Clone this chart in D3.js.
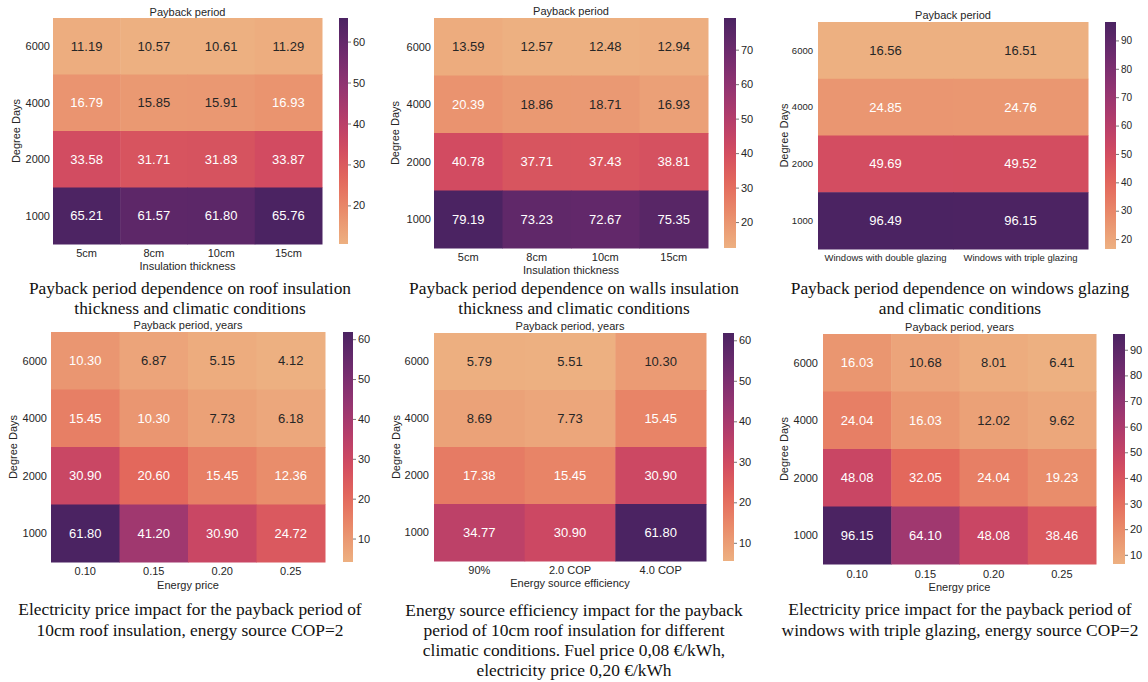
<!DOCTYPE html>
<html><head><meta charset="utf-8">
<script src="https://cdn.jsdelivr.net/npm/d3@7"></script>
<style>
body{margin:0;background:#fff;}
svg{display:block;}
</style></head>
<body>
<svg id="chart" width="1148" height="682"></svg>
<script>
// ---------- DATA ----------
const rowLabels = ["6000", "4000", "2000", "1000"];

const roofCols = ["5cm", "8cm", "10cm", "15cm"];
const roofValues = [
  [11.19, 10.57, 10.61, 11.29],
  [16.79, 15.85, 15.91, 16.93],
  [33.58, 31.71, 31.83, 33.87],
  [65.21, 61.57, 61.80, 65.76]
];
const roofTicks = [20, 30, 40, 50, 60];

const wallCols = ["5cm", "8cm", "10cm", "15cm"];
const wallValues = [
  [13.59, 12.57, 12.48, 12.94],
  [20.39, 18.86, 18.71, 16.93],
  [40.78, 37.71, 37.43, 38.81],
  [79.19, 73.23, 72.67, 75.35]
];
const wallTicks = [20, 30, 40, 50, 60, 70];

const windowCols = ["Windows with double glazing", "Windows with triple glazing"];
const windowValues = [
  [16.56, 16.51],
  [24.85, 24.76],
  [49.69, 49.52],
  [96.49, 96.15]
];
const windowTicks = [20, 30, 40, 50, 60, 70, 80, 90];

const priceCols = ["0.10", "0.15", "0.20", "0.25"];
const roofPriceValues = [
  [10.30, 6.87, 5.15, 4.12],
  [15.45, 10.30, 7.73, 6.18],
  [30.90, 20.60, 15.45, 12.36],
  [61.80, 41.20, 30.90, 24.72]
];
const roofPriceTicks = [10, 20, 30, 40, 50, 60];

const effCols = ["90%", "2.0 COP", "4.0 COP"];
const effValues = [
  [5.79, 5.51, 10.30],
  [8.69, 7.73, 15.45],
  [17.38, 15.45, 30.90],
  [34.77, 30.90, 61.80]
];
const effTicks = [10, 20, 30, 40, 50, 60];

const windowPriceValues = [
  [16.03, 10.68, 8.01, 6.41],
  [24.04, 16.03, 12.02, 9.62],
  [48.08, 32.05, 24.04, 19.23],
  [96.15, 64.10, 48.08, 38.46]
];
const windowPriceTicks = [10, 20, 30, 40, 50, 60, 70, 80, 90];

const titles = ["Payback period", "Payback period", "Payback period",
  "Payback period, years", "Payback period, years", "Payback period, years"];
const xTitles = ["Insulation thickness", "Insulation thickness", "",
  "Energy price", "Energy source efficiency", "Energy price"];
const yTitle = "Degree Days";
const captions = [
  ["Payback period dependence on roof insulation", "thickness and climatic conditions"],
  ["Payback period dependence on walls insulation", "thickness and climatic conditions"],
  ["Payback period dependence on windows glazing", "and climatic conditions"],
  ["Electricity price impact for the payback period of", "10cm roof insulation, energy source COP=2"],
  ["Energy source efficiency impact for the payback", "period of 10cm roof insulation for different",
   "climatic conditions. Fuel price 0,08 €/kWh,", "electricity price 0,20 €/kWh"],
  ["Electricity price impact for the payback period of", "windows with triple glazing, energy source COP=2"]
];

// seaborn "flare" colormap stops
const flareStops = ["#edb081", "#e98d6b", "#e3685c", "#d14a61", "#b13c6c", "#8f3371", "#6c2b6d", "#4b2362"];

// ---------- LAYOUT ----------
const panels = [
  {cols: roofCols, vals: roofValues, ticks: roofTicks,
   hm: [53, 322, 18, 244], cb: [339, 348], titleY: 12, xtY: 253, xtitleY: 266, capX: 190, capY: [288, 308],
   ylabX: 50, ytitleX: 16, fs: 11, xfs: 11, cfs: 11},
  {cols: wallCols, vals: wallValues, ticks: wallTicks,
   hm: [434, 708, 18, 248], cb: [724, 736], titleY: 11, xtY: 257, xtitleY: 270, capX: 574, capY: [288, 308],
   ylabX: 431, ytitleX: 395, fs: 11, xfs: 11, cfs: 11},
  {cols: windowCols, vals: windowValues, ticks: windowTicks,
   hm: [818, 1088, 22, 249], cb: [1105, 1116], titleY: 15, xtY: 258, xtitleY: 0, capX: 960, capY: [288, 308],
   ylabX: 813, ytitleX: 784, fs: 9.5, xfs: 9.5, cfs: 10},
  {cols: priceCols, vals: roofPriceValues, ticks: roofPriceTicks,
   hm: [51, 325, 332, 562], cb: [343, 353], titleY: 325.5, xtY: 571, xtitleY: 585, capX: 190, capY: [609, 630],
   ylabX: 47, ytitleX: 13, fs: 11, xfs: 11, cfs: 11},
  {cols: effCols, vals: effValues, ticks: effTicks,
   hm: [434, 706, 333, 561], cb: [723, 734], titleY: 326, xtY: 570, xtitleY: 583, capX: 574, capY: [610, 630, 650, 670],
   ylabX: 429, ytitleX: 396, fs: 11, xfs: 11, cfs: 11},
  {cols: priceCols, vals: windowPriceValues, ticks: windowPriceTicks,
   hm: [823, 1096, 334, 564], cb: [1113, 1125], titleY: 327, xtY: 574, xtitleY: 587, capX: 960, capY: [609, 630],
   ylabX: 818, ytitleX: 784, fs: 11, xfs: 11, cfs: 11}
];

const svg = d3.select("#chart");
const sans = "'Liberation Sans', Arial, sans-serif";
const serif = "'Liberation Serif', 'Times New Roman', serif";
const textDark = "#262626";
const interp = d3.piecewise(d3.interpolateRgb, flareStops);
const defs = svg.append("defs");

panels.forEach((p, pi) => {
  const g = svg.append("g");
  const [x0, x1, y0, y1] = p.hm;
  const all = p.vals.flat();
  const vmin = d3.min(all), vmax = d3.max(all);
  const color = d3.scaleSequential(interp).domain([vmin, vmax]);
  const x = d3.scaleBand().domain(p.cols).range([x0, x1]);
  const y = d3.scaleBand().domain(rowLabels).range([y0, y1]);

  const cells = [];
  p.vals.forEach((row, ri) => row.forEach((v, ci) => cells.push({r: rowLabels[ri], c: p.cols[ci], v})));

  g.selectAll("rect.cell").data(cells).join("rect")
    .attr("x", d => x(d.c)).attr("y", d => y(d.r))
    .attr("width", x.bandwidth() + 0.5).attr("height", y.bandwidth() + 0.5)
    .attr("fill", d => color(d.v));

  g.selectAll("text.ann").data(cells).join("text")
    .attr("x", d => x(d.c) + x.bandwidth() / 2)
    .attr("y", d => y(d.r) + y.bandwidth() / 2)
    .attr("dy", "0.35em").attr("text-anchor", "middle")
    .attr("font-family", sans).attr("font-size", 13)
    .attr("fill", d => ((d.v - vmin) / (vmax - vmin) < 0.1) ? textDark : "#ffffff")
    .text(d => d.v.toFixed(2));

  // y tick labels
  g.selectAll("text.yl").data(rowLabels).join("text")
    .attr("x", p.ylabX).attr("y", d => y(d) + y.bandwidth() / 2)
    .attr("dy", "0.35em").attr("text-anchor", "end")
    .attr("font-family", sans).attr("font-size", p.fs).attr("fill", textDark)
    .text(d => d);

  // x tick labels
  g.selectAll("text.xl").data(p.cols).join("text")
    .attr("x", d => x(d) + x.bandwidth() / 2).attr("y", p.xtY)
    .attr("dy", "0.35em").attr("text-anchor", "middle")
    .attr("font-family", sans).attr("font-size", p.xfs).attr("fill", textDark)
    .text(d => d);

  // titles
  g.append("text").attr("x", (x0 + x1) / 2).attr("y", p.titleY).attr("dy", "0.35em")
    .attr("text-anchor", "middle").attr("font-family", sans).attr("font-size", 11).attr("fill", textDark)
    .text(titles[pi]);
  if (xTitles[pi]) {
    g.append("text").attr("x", (x0 + x1) / 2).attr("y", p.xtitleY).attr("dy", "0.35em")
      .attr("text-anchor", "middle").attr("font-family", sans).attr("font-size", 11).attr("fill", textDark)
      .text(xTitles[pi]);
  }
  g.append("text")
    .attr("transform", `translate(${p.ytitleX},${(y0 + y1) / 2}) rotate(-90)`)
    .attr("dy", "0.35em").attr("text-anchor", "middle")
    .attr("font-family", sans).attr("font-size", 11).attr("fill", textDark)
    .text(yTitle);

  // colorbar
  const gid = "grad" + pi;
  const grad = defs.append("linearGradient").attr("id", gid)
    .attr("x1", 0).attr("y1", 1).attr("x2", 0).attr("y2", 0);
  d3.range(0, 1.0001, 0.05).forEach(t => {
    grad.append("stop").attr("offset", t).attr("stop-color", interp(t));
  });
  const [cx0, cx1] = p.cb;
  g.append("rect").attr("x", cx0).attr("y", y0).attr("width", cx1 - cx0).attr("height", y1 - y0)
    .attr("fill", `url(#${gid})`);
  const cs = d3.scaleLinear().domain([vmin, vmax]).range([y1, y0]);
  const axis = d3.axisRight(cs).tickValues(p.ticks).tickSize(3).tickPadding(2).tickFormat(d3.format("d"));
  const ag = g.append("g").attr("transform", `translate(${cx1},0)`).call(axis);
  ag.select(".domain").remove();
  ag.selectAll("line").attr("stroke", "#555").attr("stroke-width", 0.8);
  ag.selectAll("text").attr("font-family", sans).attr("font-size", p.cfs).attr("fill", textDark);

  // caption
  g.selectAll("text.cap").data(captions[pi]).join("text")
    .attr("x", p.capX).attr("y", (d, i) => p.capY[i]).attr("dy", "0.35em")
    .attr("text-anchor", "middle").attr("font-family", serif).attr("font-size", 17.4).attr("fill", "#111")
    .text(d => d);
});
</script>
</body></html>
